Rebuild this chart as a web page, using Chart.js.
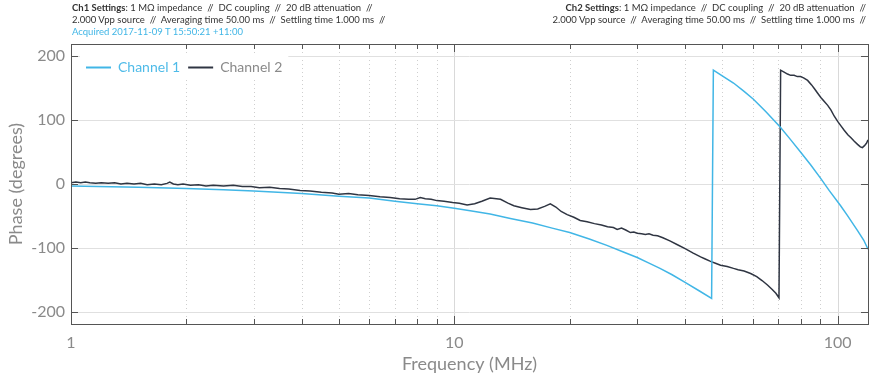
<!DOCTYPE html>
<html>
<head>
<meta charset="utf-8">
<script src="https://cdn.jsdelivr.net/npm/chart.js@4.4.1/dist/chart.umd.min.js"></script>
<style>
  body { margin: 0; background: #fff; }
  #wrap { position: relative; width: 873px; height: 383px; font-family: Lato, sans-serif; }
  #wrap canvas { position: absolute; left: 0; top: 0; }
  .hdr { position: absolute; top: 2px; font-size: 9.5px; line-height: 12px; color: #333; white-space: pre; }
  #h1 { left: 72px; }
  #h2 { right: 7px; text-align: right; }
  .acq { color: #41b6e6; }
</style>
</head>
<body>
<div id="wrap">
  <canvas id="chart" width="873" height="383"></canvas>
  <div class="hdr" id="h1"><b>Ch1 Settings</b>: 1 MΩ impedance  //  DC coupling  //  20 dB attenuation  //
2.000 Vpp source  //  Averaging time 50.00 ms  //  Settling time 1.000 ms  //
<span class="acq">Acquired 2017-11-09 T 15:50:21 +11:00</span></div>
  <div class="hdr" id="h2"><b>Ch2 Settings</b>: 1 MΩ impedance  //  DC coupling  //  20 dB attenuation  //
2.000 Vpp source  //  Averaging time 50.00 ms  //  Settling time 1.000 ms  //</div>
</div>
<script>
// values
const freq1 = [1, 1.5, 2, 2.5, 3, 4, 5, 6, 7, 8,
  9, 10, 11, 12.4, 14, 16, 18, 20, 22.5, 25,
  27.5, 30, 32, 34.4, 37, 40, 43.5, 46.9, 47.4, 50,
  53.5, 57, 60.2, 65, 70.8, 75, 80, 85, 90.5, 95,
  101.8, 106, 112.7, 117, 120];
const phase1 = [-3, -5, -7, -9, -11, -15, -19, -22, -27, -31,
  -34, -38, -42, -47, -54, -61, -69, -76, -86, -96,
  -106, -115, -123, -132, -142, -154, -167, -179, 178, 169,
  158, 145, 133, 113, 89, 71, 50, 30, 8, -10,
  -34, -49, -73, -88, -102];

const freq2 = [1.00, 1.03, 1.06, 1.09, 1.12, 1.16, 1.20, 1.25, 1.30, 1.35,
  1.40, 1.46, 1.52, 1.58, 1.65, 1.72, 1.78, 1.81, 1.85, 1.90,
  1.96, 2.05, 2.15, 2.25, 2.35, 2.50, 2.65, 2.80, 2.95, 3.10,
  3.30, 3.50, 3.70, 3.96, 4.2, 4.5, 4.8, 5.0, 5.3, 5.6,
  6.0, 6.4, 6.8, 7.2, 7.6, 7.9, 8.15, 8.4, 8.7, 9.0,
  9.4, 9.9, 10.3, 10.8, 11.3, 11.8, 12.4, 13.2, 13.8, 14.3,
  15.0, 15.8, 16.5, 17.2, 17.8, 18.4, 19.0, 19.7, 20.5, 21.3,
  22.2, 23.2, 24.2, 25.1, 26.0, 26.6, 27.3, 28.0, 28.8, 29.4,
  30.0, 30.8, 31.5, 32.2, 33.0, 33.9, 35.0, 36.5, 38.2, 40.0,
  42.0, 43.9, 45.0, 46.6, 48.0, 49.5, 51.5, 53.5, 55.0, 57.0,
  59.3, 61.5, 63.5, 65.6, 67.5, 69.0, 70.3, 71.0, 72.5, 74.0,
  75.4, 77.0, 78.5, 80.0, 81.5, 83.5, 85.5, 87.0, 88.7, 90.5,
  92.3, 94.2, 96.0, 98.0, 100, 102, 104, 106.3, 108.5, 110.5,
  112.7, 114.6, 116.0, 117.5, 119, 120];
const phase2 = [2, 3, 2, 3, 2, 1, 2, 1, 2, 0,
  1, 0, 1, -1, 0, -1, 1, 3, 0, -1,
  0, -2, -1, -3, -2, -3, -2, -4, -4, -6,
  -5, -7, -8, -10, -11, -13, -14, -16, -15, -17,
  -18, -20, -21, -23, -24, -24, -21, -23, -24, -26,
  -27, -29, -30, -33, -31, -27, -22, -24, -30, -34,
  -37, -40, -39, -35, -31, -36, -43, -48, -52, -57,
  -59, -62, -64, -67, -68, -71, -69, -72, -76, -75,
  -77, -78, -79, -78, -80, -81, -84, -89, -95, -101,
  -108, -114, -117, -121, -124, -127, -129, -132, -134, -136,
  -140, -145, -151, -158, -165, -171, -178, 178, 175, 172,
  170, 170, 168, 168, 166, 162, 155, 149, 142, 135,
  129, 123, 116, 106, 98, 91, 84, 77, 72, 67,
  62, 58, 57, 60, 64, 69];

const seriesNames = ['Channel 1', 'Channel 2'];
const seriesColors = ['#41b6e6', '#2f3542'];
const legendTextColors = ['#4fbbe8', '#8a8a8a'];

const xTickValues = [1, 2, 3, 4, 5, 6, 7, 8, 9, 10, 20, 30, 40, 50, 60, 70, 80, 90, 100];
const xTickLabels = [1, 10, 100];
const yTickValues = [-200, -100, 0, 100, 200];

const isDecade = v => Math.abs(Math.log10(v) - Math.round(Math.log10(v))) < 1e-9;

const points = (xs, ys) => xs.map((x, i) => ({ x: x, y: ys[i] }));

// grid drawn by hand so minor lines can be dotted and majors solid
const gridPlugin = {
  id: 'grid',
  beforeDatasetsDraw(chart) {
    const { ctx, chartArea: { left, right, top, bottom }, scales: { x, y } } = chart;
    ctx.save();
    ctx.lineWidth = 1;
    x.ticks.forEach(t => {
      if (t.value === 1) return;
      const px = Math.round(x.getPixelForValue(t.value)) + 0.5;
      const major = isDecade(t.value);
      ctx.strokeStyle = major ? '#d9d9d9' : '#cfcfcf';
      ctx.setLineDash(major ? [] : [1, 3]);
      ctx.beginPath();
      ctx.moveTo(px, top);
      ctx.lineTo(px, bottom);
      ctx.stroke();
    });
    ctx.setLineDash([]);
    ctx.strokeStyle = '#e0e0e0';
    y.ticks.forEach(t => {
      const py = Math.round(y.getPixelForValue(t.value)) + 0.5;
      ctx.beginPath();
      ctx.moveTo(left, py);
      ctx.lineTo(right, py);
      ctx.stroke();
    });
    ctx.restore();
  }
};

// frame, inward tick marks and the legend box
const framePlugin = {
  id: 'frame',
  afterDatasetsDraw(chart) {
    const { ctx, chartArea: { left, right, top, bottom }, scales: { x, y } } = chart;
    ctx.save();
    ctx.strokeStyle = '#555';
    ctx.lineWidth = 1;
    ctx.strokeRect(Math.round(left) + 0.5, Math.round(top) + 0.5, Math.round(right - left), Math.round(bottom - top));

    ctx.beginPath();
    x.ticks.forEach(t => {
      const px = Math.round(x.getPixelForValue(t.value)) + 0.5;
      const len = isDecade(t.value) ? 8 : 5;
      ctx.moveTo(px, bottom);
      ctx.lineTo(px, bottom - len);
      ctx.moveTo(px, top);
      ctx.lineTo(px, top + len);
    });
    y.ticks.forEach(t => {
      const py = Math.round(y.getPixelForValue(t.value)) + 0.5;
      ctx.moveTo(left, py);
      ctx.lineTo(left + 7, py);
      ctx.moveTo(right, py);
      ctx.lineTo(right - 7, py);
    });
    ctx.stroke();

    // legend
    ctx.font = '14px Lato';
    ctx.textBaseline = 'middle';
    const ly = 67;
    const sample = 25;
    let lx = 86;
    const items = chart.data.datasets.map((ds, i) => ({ ds, i, w: ctx.measureText(ds.label).width }));
    let total = 0;
    items.forEach(it => { total += sample + 7 + it.w + 8; });
    ctx.fillStyle = '#fff';
    ctx.fillRect(lx - 6, ly - 11, total + 4, 22);
    items.forEach(it => {
      ctx.strokeStyle = it.ds.borderColor;
      ctx.lineWidth = 2;
      ctx.beginPath();
      ctx.moveTo(lx, ly + 0.5);
      ctx.lineTo(lx + sample, ly + 0.5);
      ctx.stroke();
      lx += sample + 7;
      ctx.fillStyle = legendTextColors[it.i];
      ctx.fillText(it.ds.label, lx, ly);
      lx += it.w + 8;
    });
    ctx.restore();
  }
};

new Chart(document.getElementById('chart'), {
  type: 'line',
  data: {
    datasets: [
      {
        label: seriesNames[0],
        data: points(freq1, phase1),
        borderColor: seriesColors[0],
        backgroundColor: seriesColors[0],
        borderWidth: 1.5,
        pointRadius: 0,
        fill: false,
        tension: 0
      },
      {
        label: seriesNames[1],
        data: points(freq2, phase2),
        borderColor: seriesColors[1],
        backgroundColor: seriesColors[1],
        borderWidth: 1.5,
        pointRadius: 0,
        fill: false,
        tension: 0
      }
    ]
  },
  options: {
    responsive: false,
    animation: false,
    devicePixelRatio: 1,
    layout: { padding: { top: 44, right: 5, left: 0, bottom: 0 } },
    plugins: {
      legend: { display: false },
      tooltip: { enabled: false }
    },
    scales: {
      x: {
        type: 'logarithmic',
        min: 1,
        max: 120,
        grid: { display: false, drawTicks: false },
        border: { display: false },
        afterBuildTicks: s => { s.ticks = xTickValues.map(v => ({ value: v })); },
        afterFit: s => { s.height = 59; },
        ticks: {
          autoSkip: false,
          maxRotation: 0,
          padding: 9,
          color: '#8a8a8a',
          font: { family: 'Lato', size: 16 },
          callback: v => xTickLabels.includes(v) ? String(v) : ''
        },
        title: {
          display: true,
          text: 'Frequency (MHz)',
          color: '#8a8a8a',
          font: { family: 'Lato', size: 18 },
          padding: { top: 0, bottom: 8 }
        }
      },
      y: {
        min: -219,
        max: 219,
        grid: { display: false, drawTicks: false },
        border: { display: false },
        afterBuildTicks: s => { s.ticks = yTickValues.map(v => ({ value: v })); },
        afterFit: s => { s.width = 71; },
        ticks: {
          padding: 6,
          color: '#8a8a8a',
          font: { family: 'Lato', size: 16 }
        },
        title: {
          display: true,
          text: 'Phase (degrees)',
          color: '#8a8a8a',
          font: { family: 'Lato', size: 18 },
          padding: { top: 5, bottom: 0 }
        }
      }
    }
  },
  plugins: [gridPlugin, framePlugin]
});
</script>
</body>
</html>
